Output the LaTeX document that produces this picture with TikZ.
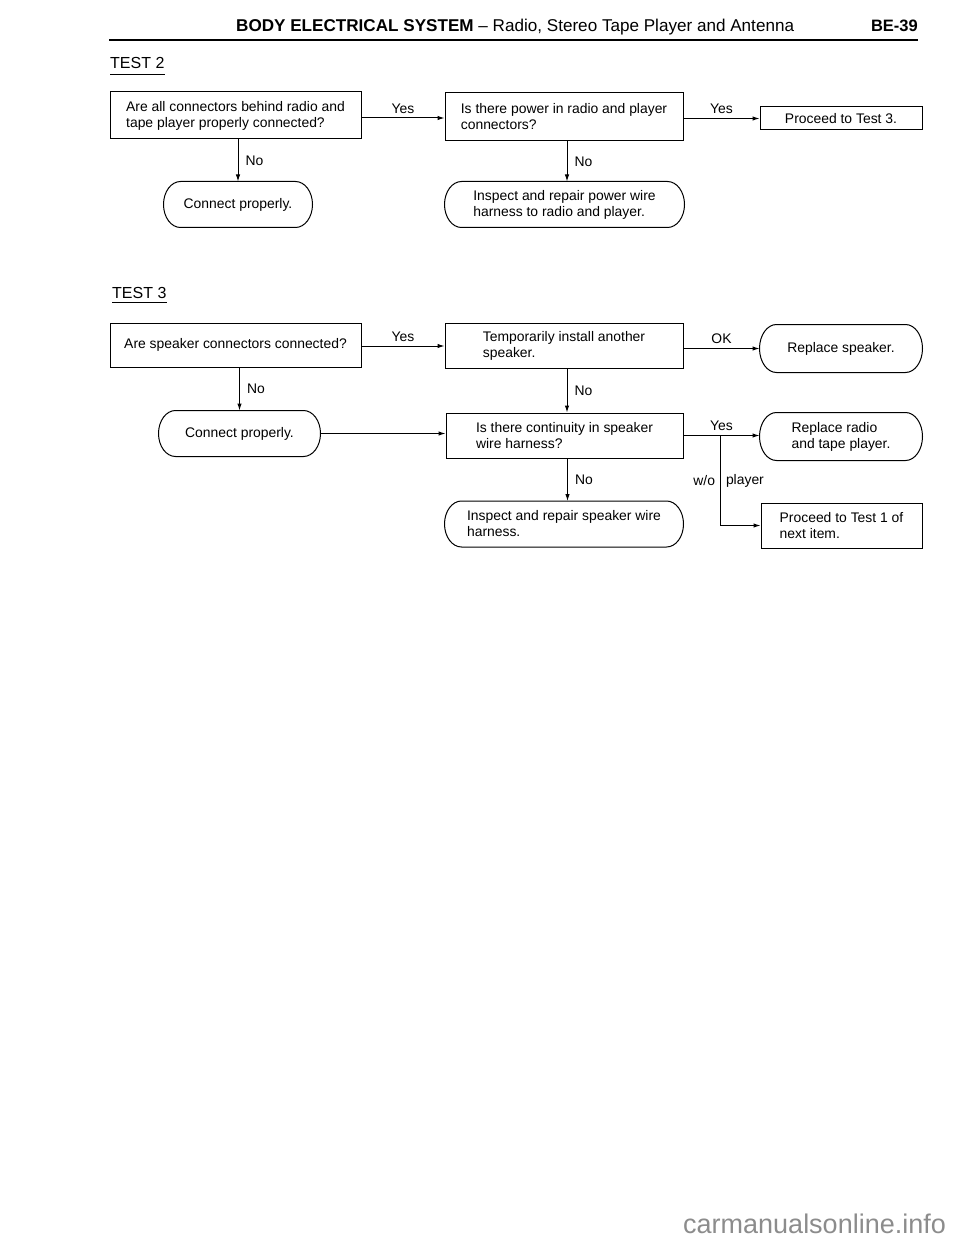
\documentclass[tikz,border=0pt]{standalone}
\usepackage{fontspec}
\setmainfont{Liberation Sans}
\usetikzlibrary{arrows.meta,calc}
\newcommand\termshape[1]{%
  \draw[ln] let \p1=(#1.north east), \p2=(#1.south west), \n1={(\y1-\y2)/2} in
    (\x2+17pt,\y1) -- (\x1-17pt,\y1)
    arc[start angle=90,end angle=-90,x radius=17pt,y radius={\n1*1pt}]
    -- (\x2+17pt,\y2)
    arc[start angle=270,end angle=90,x radius=17pt,y radius={\n1*1pt}] -- cycle;}
\begin{document}
\begin{tikzpicture}[x=1pt,y=1pt,
  ln/.style={line width=1pt},
  box/.style={draw, ln, align=left, font=\fontsize{13.9}{16}\selectfont, inner sep=0pt, anchor=center},
  term/.style={box, draw=none},
  lab/.style={font=\fontsize{13.9}{16}\selectfont, inner sep=2pt},
  arr/.style={ln, -{Latex[length=7pt,width=4.5pt]}},
  ttl/.style={font=\fontsize{16}{18}\selectfont, inner sep=0pt, anchor=base west}]
\useasboundingbox (0,0) rectangle (960,-1241);

% header
\node[anchor=base west, inner sep=0pt, font=\fontsize{17.1}{19}\selectfont] (hdr) at (236,-32)
  {\textbf{BODY ELECTRICAL SYSTEM} -- Radio, Stereo Tape Player and Antenna};
\node[anchor=base east, inner sep=0pt, font=\fontsize{16.5}{18}\bfseries] (pg) at (918,-32) {BE-39};
\draw[line width=2.5pt] (109,-40) -- (918,-40);

% TEST 2
\node[ttl] (ts2) at (110,-69) {TEST 2};
\draw[line width=1.4pt] ([yshift=-5.5pt]ts2.base west) -- ([yshift=-5.5pt]ts2.base east);

\node[box, minimum width=251pt, minimum height=47pt] (b1) at (235.5,-115.5)
  {Are all connectors behind radio and\\tape player properly connected?};
\node[box, minimum width=238pt, minimum height=48pt] (b2) at (564,-117)
  {Is there power in radio and player\\connectors?};
\node[box, minimum width=162pt, minimum height=23pt] (b3) at (841,-118.5)
  {Proceed to Test 3.};
\node[term, minimum width=148pt, minimum height=45pt] (t1) at (238,-204.5)
  {Connect properly.};
\node[term, minimum width=239pt, minimum height=45pt] (t2) at (564.5,-204.5)
  {Inspect and repair power wire\\harness to radio and player.};
\termshape{t1}
\termshape{t2}

\draw[arr] ([yshift=-2.5pt]b1.east) -- node[lab, above, yshift=2pt] (y1) {Yes} ([yshift=-2.5pt]b1.east -| b2.west);
\draw[arr] (b3.west -| b2.east) -- node[lab, above, yshift=2pt] (y2) {Yes} (b3.west);
\draw[arr] (b1.south -| t1.north) -- node[lab, right, xshift=5pt] (n1) {No} (t1.north);
\draw[arr] ([xshift=3pt]b2.south) -- node[lab, right, xshift=5pt] (n2) {No} ([xshift=3pt]b2.south |- t2.north);

% TEST 3
\node[ttl] (ts3) at (112,-298) {TEST 3};
\draw[line width=1.4pt] ([yshift=-4.5pt]ts3.base west) -- ([yshift=-4.5pt]ts3.base east);

\node[box, minimum width=251pt, minimum height=44pt] (b4) at (235.5,-345)
  {Are speaker connectors connected?};
\node[box, minimum width=238pt, minimum height=45pt] (b5) at (564,-345.5)
  {Temporarily install another\\speaker.};
\node[term, minimum width=162pt, minimum height=47pt] (rs) at (841,-348.5)
  {Replace speaker.};
\node[term, minimum width=161pt, minimum height=45pt] (t3) at (239.5,-433.5)
  {Connect properly.};
\node[box, minimum width=237pt, minimum height=45pt] (b6) at (564.5,-435.5)
  {Is there continuity in speaker\\wire harness?};
\node[term, minimum width=162pt, minimum height=47pt] (rr) at (841,-436.5)
  {Replace radio\\and tape player.};
\node[box, minimum width=161pt, minimum height=45pt] (b7) at (841.5,-525.5)
  {Proceed to Test 1 of\\next item.};
\node[term, minimum width=238pt, minimum height=45pt] (t5) at (564,-524)
  {Inspect and repair speaker wire\\harness.};
\termshape{rs}
\termshape{t3}
\termshape{rr}
\termshape{t5}

\draw[arr] ([yshift=-1pt]b4.east) -- node[lab, above, yshift=2pt] (y3) {Yes} ([yshift=-1pt]b4.east -| b5.west);
\draw[arr] (rs.west -| b5.east) -- node[lab, above, yshift=2pt] (ok) {OK} (rs.west);
\draw[arr] (b4.south -| t3.north) -- node[lab, right, xshift=5pt] (n3) {No} (t3.north);
\draw[arr] ([xshift=3pt]b5.south) -- node[lab, right, xshift=5pt] (n4) {No} ([xshift=3pt]b5.south |- b6.north);
\draw[arr] (t3.east) -- (t3.east -| b6.west);
\draw[arr] (b6.east) -- node[lab, above, yshift=2pt] (y4) {Yes} (b6.east -| rr.west);
\coordinate (br) at ([xshift=37pt]b6.east);
\draw[arr] (br) -- node[lab, left, xshift=-3pt] (wo) {w/o} node[lab, right, xshift=3pt] (pl) {player} (br |- b7.west) -- (b7.west);
\draw[arr] ([xshift=3pt]b6.south) -- node[lab, right, xshift=5pt] (n5) {No} ([xshift=3pt]b6.south |- t5.north);

% watermark
\node[anchor=base west, inner sep=0pt, text=black!45, font=\fontsize{27}{30}\selectfont] (wm) at (683,-1233) {carmanualsonline.info};
\end{tikzpicture}
\end{document}
